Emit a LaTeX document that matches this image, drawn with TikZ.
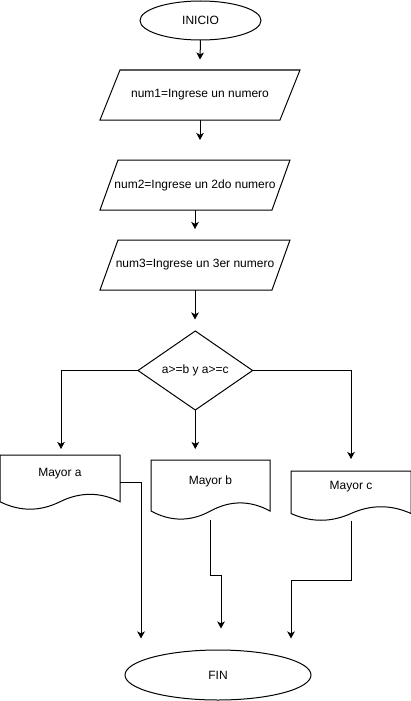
\documentclass[tikz,border=0pt]{standalone}
\usepackage{fontspec}
\setmainfont{Liberation Sans}
\usetikzlibrary{shapes.geometric,arrows.meta}
\newcommand{\docpath}[4]{% x y w h
  \draw[shp] (#1,#2) -- ({#1+#3},#2) -- ({#1+#3},{#2+0.85*#4})
    .. controls ({#1+0.8333*#3},{#2+0.67*#4}) and ({#1+0.6667*#3},{#2+0.67*#4}) .. ({#1+0.5*#3},{#2+0.85*#4})
    .. controls ({#1+0.3333*#3},{#2+1.03*#4}) and ({#1+0.1667*#3},{#2+1.03*#4}) .. (#1,{#2+0.85*#4}) -- cycle;}
\begin{document}
\begin{tikzpicture}[x=1pt,y=-1pt,
  every node/.style={font=\fontsize{12}{14}\selectfont, inner sep=0pt, outer sep=0pt},
  shp/.style={draw=black, line width=1pt},
  conn/.style={draw=black, line width=1pt, -{Stealth[length=7pt,width=7.5pt,inset=1.8pt]}},
  box/.style={minimum width=#1, minimum height=50pt},
  docbox/.style={minimum width=120pt}]
\useasboundingbox (0,0) rectangle (411,701);

% start
\node[ellipse, shp, minimum width=121pt, minimum height=39pt] (inicio) at (200.5,20.5) {INICIO};

% inputs
\draw[shp] (120,70) -- (300,70) -- (280,120) -- (100,120) -- cycle;
\node[box=180pt] (p1) at (200,95) {num1=Ingrese un numero};

\draw[shp] (118,160) -- (290,160) -- (272,210) -- (100,210) -- cycle;
\node[box=172pt] (p2) at (195,185) {num2=Ingrese un 2do numero};

\draw[shp] (118,240) -- (290,240) -- (272,290) -- (100,290) -- cycle;
\node[box=172pt] (p3) at (195,265) {num3=Ingrese un 3er numero};

% decision
\node[diamond, shp, minimum width=114.6pt, minimum height=79pt, inner sep=0pt] (d) at (195.3,370.5) {a>=b y a>=c};

% documents
\docpath{0}{455}{120}{55}
\node[docbox, minimum height=55pt, label={[yshift=9pt]center:Mayor a}] (ma) at (60,482.5) {};
\docpath{151}{460}{119}{60}
\node[docbox, minimum height=60pt, label={[yshift=9pt]center:Mayor b}] (mb) at (210.5,490) {};
\docpath{291}{471}{120}{50}
\node[docbox, minimum height=50pt, label={[yshift=9pt]center:Mayor c}] (mc) at (351,496) {};

% end
\node[ellipse, shp, minimum width=186pt, minimum height=50pt] (fin) at (218,675) {FIN};

% free arrow ends
\coordinate (t1) at (200,59.5);
\coordinate (t2) at (200,140);
\coordinate (t3) at (195,229);
\coordinate (t4) at (195,319.5);
\coordinate (ta) at (61,449);
\coordinate (tb) at (195.3,449);
\coordinate (tc) at (351,459);
\coordinate (fa) at (141,638.5);
\coordinate (fb) at (221,628.5);
\coordinate (fc) at (291,638.5);

% connectors
\draw[conn] (inicio.south) -- (t1);
\draw[conn] (p1.south) -- (t2);
\draw[conn] (p2.south) -- (t3);
\draw[conn] (p3.south) -- (t4);
\draw[conn] (d.west) -| (ta);
\draw[conn] (d.south) -- (tb);
\draw[conn] (d.east) -| (tc);
\draw[conn] (ma.east) -| (fa);
\draw[conn] (mb.south) -- ++(0,55) -| (fb);
\draw[conn] (mc.south) -- ++(0,59) -| (fc);
\end{tikzpicture}
\end{document}
